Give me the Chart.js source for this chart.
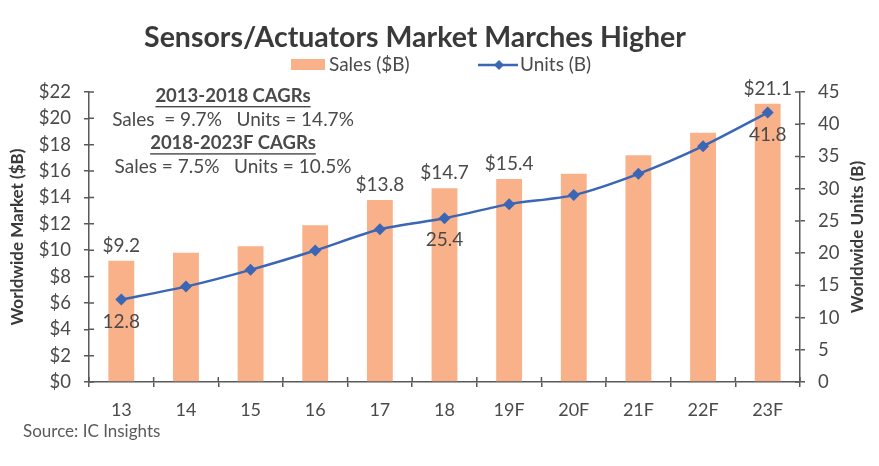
<!DOCTYPE html>
<html>
<head>
<meta charset="utf-8">
<script src="https://cdn.jsdelivr.net/npm/chart.js@4.4.1/dist/chart.umd.min.js"></script>
<style>
  html, body { margin: 0; padding: 0; background: #fff; }
  #wrap { width: 879px; height: 466px; position: relative; }
</style>
</head>
<body>
<div id="wrap"><canvas id="chart"></canvas></div>
<script>
const categories = ['13', '14', '15', '16', '17', '18', '19F', '20F', '21F', '22F', '23F'];
const salesValues = [9.2, 9.8, 10.3, 11.9, 13.8, 14.7, 15.4, 15.8, 17.2, 18.9, 21.1];
const unitsValues = [12.8, 14.8, 17.4, 20.4, 23.7, 25.4, 27.6, 29.0, 32.3, 36.6, 41.8];
const salesLabels = ['$9.2', '', '', '', '$13.8', '$14.7', '$15.4', '', '', '', '$21.1'];
const unitsLabels = ['12.8', '', '', '', '', '25.4', '', '', '', '', '41.8'];
const cagrLines = [
  { text: '2013-2018 CAGRs', bold: true },
  { text: 'Sales  = 9.7%   Units = 14.7%', bold: false },
  { text: '2018-2023F CAGRs', bold: true },
  { text: 'Sales = 7.5%   Units = 10.5%', bold: false }
];

const FONT = 'Lato, "Open Sans", sans-serif';
const TEXT = '#4a4a4a';
const AXIS = '#595959';
const BAR = '#F9B189';
const LINE = '#3B66B5';

// inward half of the crossing tick marks (Excel style)
const crossTicks = {
  id: 'crossTicks',
  afterDatasetsDraw(chart) {
    const ctx = chart.ctx;
    const { x, y, y1 } = chart.scales;
    ctx.save();
    ctx.strokeStyle = AXIS;
    ctx.lineWidth = 1.5;
    ctx.beginPath();
    y.ticks.forEach((t, i) => {
      const py = y.getPixelForTick(i);
      ctx.moveTo(y.right, py); ctx.lineTo(y.right + 5, py);
    });
    y1.ticks.forEach((t, i) => {
      const py = y1.getPixelForTick(i);
      ctx.moveTo(y1.left - 5, py); ctx.lineTo(y1.left, py);
    });
    for (let i = 0; i <= categories.length; i++) {
      const px = x.getPixelForValue(i - 0.5);
      ctx.moveTo(px, x.top - 5); ctx.lineTo(px, x.top);
    }
    ctx.stroke();
    ctx.restore();
  }
};

// title, labels, legend, CAGR notes, right axis title and source line
const extras = {
  id: 'extras',
  afterDraw(chart) {
    const ctx = chart.ctx;
    const bars = chart.getDatasetMeta(0).data;
    const pts = chart.getDatasetMeta(1).data;
    const area = chart.chartArea;
    ctx.save();

    ctx.fillStyle = '#3a3a3a';
    ctx.font = 'bold 28.5px ' + FONT;
    ctx.textAlign = 'center';
    ctx.textBaseline = 'middle';
    ctx.fillText('Sensors/Actuators Market Marches Higher', 415, 38);

    // right axis title, reading upwards like the left one
    ctx.save();
    ctx.translate(858, (area.top + area.bottom) / 2);
    ctx.rotate(-Math.PI / 2);
    ctx.font = 'bold 17px ' + FONT;
    ctx.fillText('Worldwide Units (B)', 0, 0);
    ctx.restore();

    ctx.fillStyle = TEXT;
    ctx.font = '19px ' + FONT;
    bars.forEach((b, i) => {
      if (salesLabels[i]) ctx.fillText(salesLabels[i], b.x, b.y - 15);
    });
    pts.forEach((p, i) => {
      if (unitsLabels[i]) ctx.fillText(unitsLabels[i], p.x, p.y + 22);
    });

    // CAGR notes
    let y = 96;
    cagrLines.forEach(l => {
      ctx.font = (l.bold ? 'bold 18.5px ' : '19px ') + FONT;
      ctx.fillText(l.text, 233, y);
      if (l.bold) {
        const w = ctx.measureText(l.text).width;
        ctx.fillRect(233 - w / 2, y + 10, w, 1.4);
      }
      y += 23.6;
    });

    // legend
    ctx.font = '19px ' + FONT;
    ctx.textAlign = 'left';
    ctx.fillStyle = BAR;
    ctx.fillRect(291, 59, 34, 11);
    ctx.fillStyle = TEXT;
    ctx.fillText('Sales ($B)', 329, 65);
    ctx.strokeStyle = LINE;
    ctx.lineWidth = 2.5;
    ctx.beginPath();
    ctx.moveTo(478, 65);
    ctx.lineTo(518, 65);
    ctx.stroke();
    ctx.fillStyle = LINE;
    ctx.beginPath();
    ctx.moveTo(499, 60); ctx.lineTo(504, 65); ctx.lineTo(499, 70); ctx.lineTo(494, 65);
    ctx.closePath();
    ctx.fill();
    ctx.fillStyle = TEXT;
    ctx.fillText('Units (B)', 520, 65);

    // source
    ctx.font = '17px ' + FONT;
    ctx.fillStyle = '#5a5a5a';
    ctx.fillText('Source: IC Insights', 23, 432);
    ctx.restore();
  }
};

new Chart(document.getElementById('chart'), {
  type: 'bar',
  data: {
    labels: categories,
    datasets: [
      {
        type: 'bar',
        label: 'Sales ($B)',
        data: salesValues,
        backgroundColor: BAR,
        yAxisID: 'y',
        categoryPercentage: 1,
        barPercentage: 0.4,
        order: 2
      },
      {
        type: 'line',
        label: 'Units (B)',
        data: unitsValues,
        borderColor: LINE,
        backgroundColor: LINE,
        borderWidth: 2.5,
        pointStyle: 'rectRot',
        pointRadius: 6,
        pointBorderWidth: 0,
        tension: 0.25,
        yAxisID: 'y1',
        order: 1
      }
    ]
  },
  options: {
    responsive: true,
    maintainAspectRatio: false,
    animation: false,
    layout: { padding: { top: 92, left: 0, right: 0, bottom: 0 } },
    plugins: {
      legend: { display: false },
      tooltip: { enabled: false },
      title: { display: false }
    },
    scales: {
      x: {
        afterFit: s => { s.height = 84; },
        grid: { display: true, drawOnChartArea: false, offset: true, tickLength: 5, color: AXIS, lineWidth: 1.5 },
        border: { color: AXIS, width: 1.5 },
        ticks: { color: TEXT, font: { family: FONT, size: 18 }, padding: 12 }
      },
      y: {
        position: 'left',
        min: 0,
        max: 22,
        afterFit: s => { s.width = 89; },
        grid: { drawOnChartArea: false, tickLength: 5, color: AXIS, lineWidth: 1.5 },
        border: { color: AXIS, width: 1.5 },
        ticks: {
          stepSize: 2,
          color: TEXT,
          font: { family: FONT, size: 18.5 },
          padding: 13,
          callback: v => '$' + v
        },
        title: {
          display: true,
          text: 'Worldwide Market ($B)',
          color: '#3a3a3a',
          font: { family: FONT, size: 17, weight: 'bold' },
          padding: { top: 7, bottom: 0 }
        }
      },
      y1: {
        position: 'right',
        min: 0,
        max: 45,
        afterFit: s => { s.width = 79; },
        grid: { drawOnChartArea: false, tickLength: 5, color: AXIS, lineWidth: 1.5 },
        border: { color: AXIS, width: 1.5 },
        ticks: { stepSize: 5, color: TEXT, font: { family: FONT, size: 18.5 }, padding: 13 },
        title: { display: false }
      }
    }
  },
  plugins: [crossTicks, extras]
});
</script>
</body>
</html>
